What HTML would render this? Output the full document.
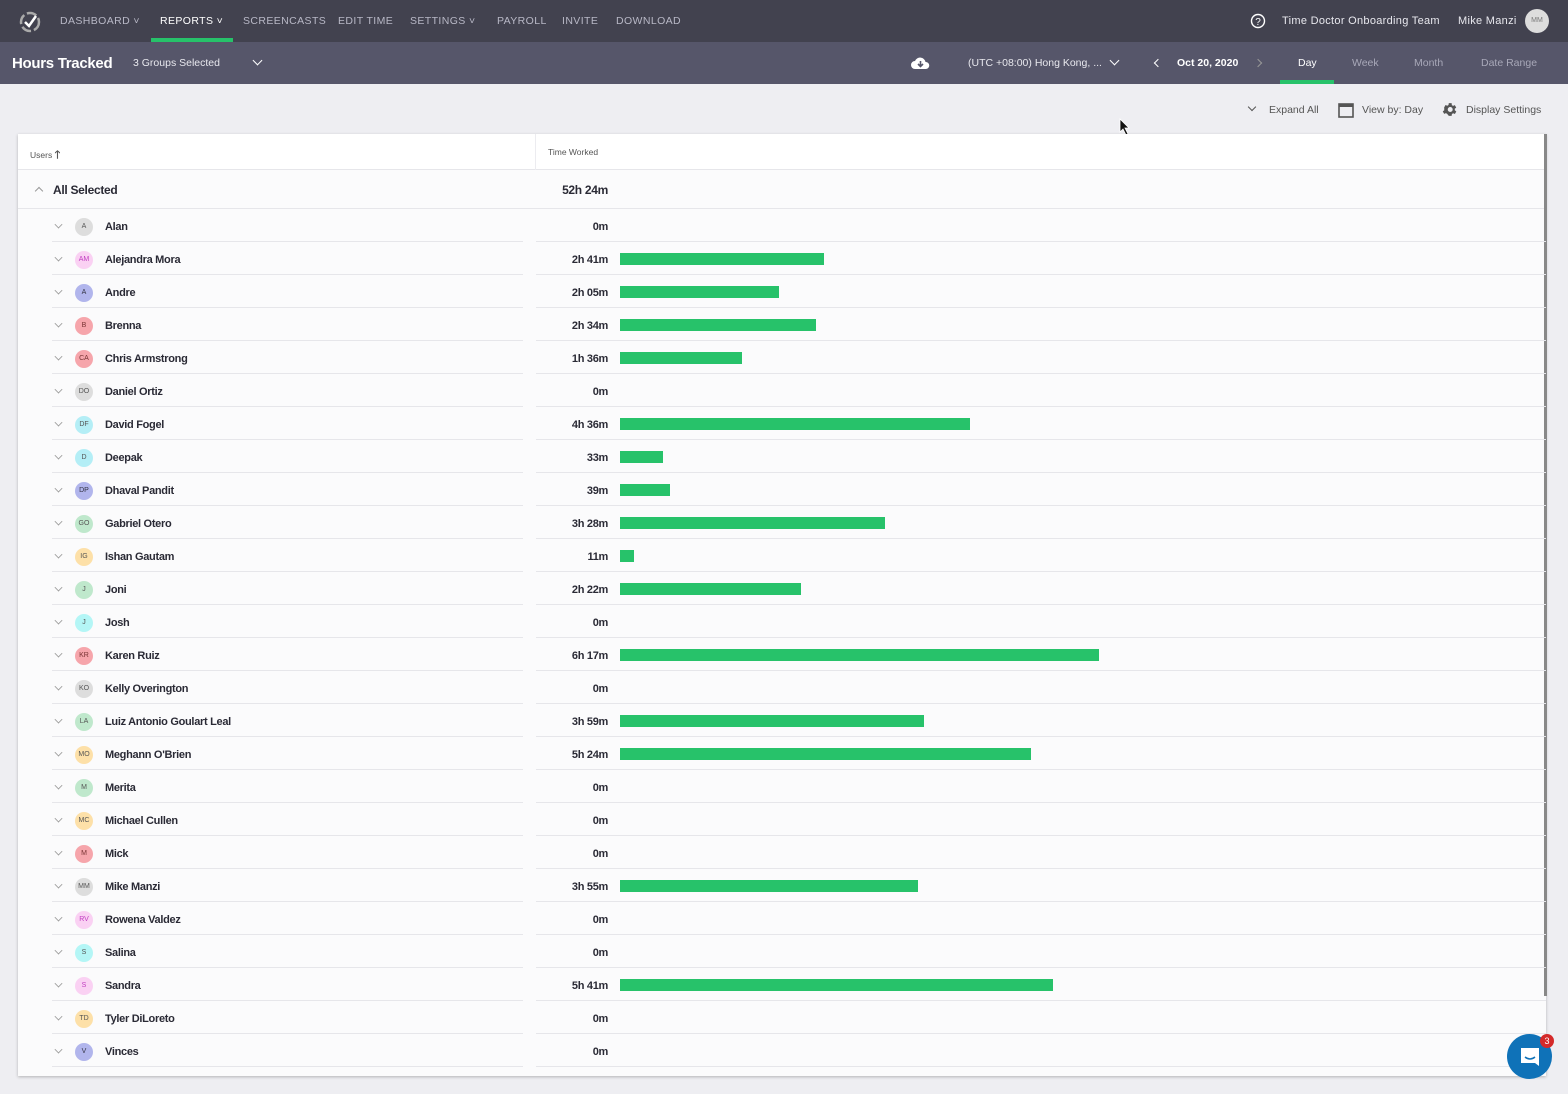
<!DOCTYPE html>
<html><head><meta charset="utf-8"><style>
*{margin:0;padding:0;box-sizing:border-box}
body{width:1568px;height:1094px;background:#eeeef2;font-family:"Liberation Sans",sans-serif;position:relative;overflow:hidden}
.a{position:absolute}
.nav{left:0;top:0;width:1568px;height:42px;background:#42424f}
.sub{left:0;top:42px;width:1568px;height:42px;background:#56566a}
.nv{top:15px;font-size:10.5px;letter-spacing:.4px;color:#b8b8c6}
.card{left:18px;top:134px;width:1528px;height:942px;background:#fbfbfc;box-shadow:0 1px 3px rgba(0,0,0,.25)}
.row{position:absolute;left:0;width:1528px;height:33px}
.row .ln1{position:absolute;left:34px;width:471px;bottom:0;height:1px;background:#e6e6ea}
.row .ln2{position:absolute;left:518px;width:1010px;bottom:0;height:1px;background:#e6e6ea}
.chev{position:absolute;left:37px;top:12px;width:7px;height:7px;border-right:1.3px solid #999;border-bottom:1.3px solid #999;transform:rotate(45deg) scale(.8)}
.av{position:absolute;left:57px;top:9px;width:18px;height:18px;border-radius:50%;font-size:7px;text-align:center;line-height:18px;color:#555}
.nm{position:absolute;left:87px;top:12px;font-size:11px;font-weight:bold;color:#2a2a35;letter-spacing:-.3px}
.tm{position:absolute;right:938px;top:12px;font-size:11px;font-weight:bold;color:#2a2a35;letter-spacing:-.3px}
.bar{position:absolute;left:602px;top:11px;height:12px;background:#27c26a}
</style></head><body>
<div class="a nav"></div>
<svg class="a" style="left:18px;top:10px" width="24" height="24" viewBox="0 0 24 24"><circle cx="12" cy="12" r="9" fill="none" stroke="#aaa" stroke-width="2.5" stroke-dasharray="10 3"/><path d="M7 12l4 4 7-10" fill="none" stroke="#fff" stroke-width="2.5"/></svg>
<div class="a nv" style="left:60px">DASHBOARD ˅</div>
<div class="a nv" style="left:160px;color:#fff">REPORTS ˅</div>
<div class="a" style="left:151px;top:38px;width:82px;height:4px;background:#27c26a"></div>
<div class="a nv" style="left:243px">SCREENCASTS</div>
<div class="a nv" style="left:338px">EDIT TIME</div>
<div class="a nv" style="left:410px">SETTINGS ˅</div>
<div class="a nv" style="left:497px">PAYROLL</div>
<div class="a nv" style="left:562px">INVITE</div>
<div class="a nv" style="left:616px">DOWNLOAD</div>
<svg class="a" style="left:1250px;top:13px" width="16" height="16"><circle cx="8" cy="8" r="6.5" fill="none" stroke="#fff" stroke-width="1.4"/><text x="8" y="12" font-size="10" fill="#fff" text-anchor="middle" font-family="Liberation Sans">?</text></svg>
<div class="a" style="left:1282px;top:15px;font-size:11px;color:#e8e8ee;letter-spacing:.3px">Time Doctor Onboarding Team</div>
<div class="a" style="left:1458px;top:15px;font-size:11px;color:#e8e8ee;letter-spacing:.3px">Mike Manzi</div>
<div class="a" style="left:1525px;top:9px;width:24px;height:24px;border-radius:50%;background:#ddd;font-size:7px;color:#777;text-align:center;line-height:24px">MM</div>

<div class="a sub"></div>
<div class="a" style="left:12px;top:55px;font-size:15px;color:#fff;font-weight:bold;letter-spacing:-.3px">Hours Tracked</div>
<div class="a" style="left:133px;top:57px;font-size:10.5px;color:#e8e8ee">3 Groups Selected</div>
<div class="a" style="left:254px;top:57px;width:7px;height:7px;border-right:1.5px solid #fff;border-bottom:1.5px solid #fff;transform:rotate(45deg)"></div>
<svg class="a" style="left:911px;top:56px" width="19" height="14" viewBox="0 0 19 14"><path d="M4 13a4 4 0 010-8 5.5 5.5 0 0110.5 1A3.5 3.5 0 0115 13z" fill="#fff"/><path d="M9.5 5v5M7 8l2.5 2.5L12 8" stroke="#56566a" stroke-width="1.6" fill="none"/></svg>
<div class="a" style="left:968px;top:57px;font-size:10.5px;color:#e8e8ee">(UTC +08:00) Hong Kong, ...</div>
<div class="a" style="left:1111px;top:57px;width:7px;height:7px;border-right:1.5px solid #fff;border-bottom:1.5px solid #fff;transform:rotate(45deg)"></div>
<div class="a" style="left:1155px;top:60px;width:6px;height:6px;border-left:1.6px solid #fff;border-bottom:1.6px solid #fff;transform:rotate(45deg)"></div>
<div class="a" style="left:1177px;top:57px;font-size:10.5px;color:#fff;font-weight:bold">Oct 20, 2020</div>
<div class="a" style="left:1255px;top:60px;width:6px;height:6px;border-right:1.3px solid #999;border-top:1.3px solid #999;transform:rotate(45deg)"></div>
<div class="a" style="left:1298px;top:57px;font-size:10.5px;color:#fff">Day</div>
<div class="a" style="left:1280px;top:80px;width:54px;height:4px;background:#27c26a"></div>
<div class="a" style="left:1352px;top:57px;font-size:10.5px;color:#a8a8b8">Week</div>
<div class="a" style="left:1414px;top:57px;font-size:10.5px;color:#a8a8b8">Month</div>
<div class="a" style="left:1481px;top:57px;font-size:10.5px;color:#a8a8b8">Date Range</div>

<div class="a" style="left:1249px;top:104px;width:6px;height:6px;border-right:1.5px solid #555;border-bottom:1.5px solid #555;transform:rotate(45deg)"></div>
<div class="a" style="left:1269px;top:104px;font-size:10.5px;color:#555">Expand All</div>
<svg class="a" style="left:1338px;top:101px" width="16" height="17"><rect x="1" y="3" width="14" height="13" fill="none" stroke="#555" stroke-width="1.6"/><rect x="1" y="3" width="14" height="3" fill="#555"/></svg>
<div class="a" style="left:1362px;top:104px;font-size:10.5px;color:#555">View by: Day</div>
<svg class="a" style="left:1441px;top:101px" width="17" height="17" viewBox="0 0 24 24"><path fill="#555" d="M19.4 13a7.8 7.8 0 000-2l2.1-1.6-2-3.5-2.5 1a7.3 7.3 0 00-1.7-1L15 3h-4l-.4 2.7a7.3 7.3 0 00-1.7 1l-2.5-1-2 3.5L4.6 11a7.8 7.8 0 000 2l-2.1 1.6 2 3.5 2.5-1a7.3 7.3 0 001.7 1L11 21h4l.4-2.7a7.3 7.3 0 001.7-1l2.5 1 2-3.5zM13 15.5a3.5 3.5 0 110-7 3.5 3.5 0 010 7z"/></svg>
<div class="a" style="left:1466px;top:104px;font-size:10.5px;color:#555">Display Settings</div>
<svg class="a" style="left:1119px;top:118px" width="12" height="18"><path d="M1 1v13l3-3 3 6 2-1-3-6h4z" fill="#111" stroke="#fff" stroke-width=".8"/></svg>

<div class="a card">
 <div class="a" style="left:0;top:0;width:1528px;height:36px;background:#fff;border-bottom:1px solid #e6e6ea"></div>
 <div class="a" style="left:517px;top:0;width:1px;height:36px;background:#ececf0"></div>
 <div class="a" style="left:12px;top:12px;font-size:8.5px;color:#555">Users <b style="font-size:11px">🡑</b></div>
 <div class="a" style="left:530px;top:13px;font-size:8.5px;color:#555">Time Worked</div>
 <div class="a" style="left:0;top:36px;width:1528px;height:39px;border-bottom:1px solid #e6e6ea"></div>
 <div class="a" style="left:18px;top:54px;width:6px;height:6px;border-left:1.2px solid #999;border-top:1.2px solid #999;transform:rotate(45deg)"></div>
 <div class="a" style="left:35px;top:49px;font-size:12px;font-weight:bold;color:#2a2a35;letter-spacing:-.3px">All Selected</div>
 <div class="a" style="right:938px;top:49px;font-size:12px;font-weight:bold;color:#2a2a35;letter-spacing:-.3px">52h 24m</div>
 <div class="a" style="left:1526px;top:0;width:3px;height:862px;background:#888"></div>
 <div class="a" style="left:0;top:75px;width:1528px">
<div class="row" style="top:0"><span class="chev"></span><span class="av" style="background:#ddd">A</span><span class="nm">Alan</span><span class="tm">0m</span><i class="ln1"></i><i class="ln2"></i></div>
<div class="row" style="top:33px"><span class="chev"></span><span class="av" style="background:#fad1f3;color:#c03cc0">AM</span><span class="nm">Alejandra Mora</span><span class="tm">2h 41m</span><span class="bar" style="width:204px"></span><i class="ln1"></i><i class="ln2"></i></div>
<div class="row" style="top:66px"><span class="chev"></span><span class="av" style="background:#b1b5ec;color:#334">A</span><span class="nm">Andre</span><span class="tm">2h 05m</span><span class="bar" style="width:159px"></span><i class="ln1"></i><i class="ln2"></i></div>
<div class="row" style="top:99px"><span class="chev"></span><span class="av" style="background:#f6a5ab;color:#733">B</span><span class="nm">Brenna</span><span class="tm">2h 34m</span><span class="bar" style="width:196px"></span><i class="ln1"></i><i class="ln2"></i></div>
<div class="row" style="top:132px"><span class="chev"></span><span class="av" style="background:#f6a5ab;color:#733">CA</span><span class="nm">Chris Armstrong</span><span class="tm">1h 36m</span><span class="bar" style="width:122px"></span><i class="ln1"></i><i class="ln2"></i></div>
<div class="row" style="top:165px"><span class="chev"></span><span class="av" style="background:#ddd">DO</span><span class="nm">Daniel Ortiz</span><span class="tm">0m</span><i class="ln1"></i><i class="ln2"></i></div>
<div class="row" style="top:198px"><span class="chev"></span><span class="av" style="background:#b4eef6">DF</span><span class="nm">David Fogel</span><span class="tm">4h 36m</span><span class="bar" style="width:350px"></span><i class="ln1"></i><i class="ln2"></i></div>
<div class="row" style="top:231px"><span class="chev"></span><span class="av" style="background:#b4eef6">D</span><span class="nm">Deepak</span><span class="tm">33m</span><span class="bar" style="width:43px"></span><i class="ln1"></i><i class="ln2"></i></div>
<div class="row" style="top:264px"><span class="chev"></span><span class="av" style="background:#b1b5ec;color:#334">DP</span><span class="nm">Dhaval Pandit</span><span class="tm">39m</span><span class="bar" style="width:50px"></span><i class="ln1"></i><i class="ln2"></i></div>
<div class="row" style="top:297px"><span class="chev"></span><span class="av" style="background:#bfe8cc">GO</span><span class="nm">Gabriel Otero</span><span class="tm">3h 28m</span><span class="bar" style="width:265px"></span><i class="ln1"></i><i class="ln2"></i></div>
<div class="row" style="top:330px"><span class="chev"></span><span class="av" style="background:#fde0a8">IG</span><span class="nm">Ishan Gautam</span><span class="tm">11m</span><span class="bar" style="width:14px"></span><i class="ln1"></i><i class="ln2"></i></div>
<div class="row" style="top:363px"><span class="chev"></span><span class="av" style="background:#bfe8cc">J</span><span class="nm">Joni</span><span class="tm">2h 22m</span><span class="bar" style="width:181px"></span><i class="ln1"></i><i class="ln2"></i></div>
<div class="row" style="top:396px"><span class="chev"></span><span class="av" style="background:#b4f6f6">J</span><span class="nm">Josh</span><span class="tm">0m</span><i class="ln1"></i><i class="ln2"></i></div>
<div class="row" style="top:429px"><span class="chev"></span><span class="av" style="background:#f6a5ab;color:#733">KR</span><span class="nm">Karen Ruiz</span><span class="tm">6h 17m</span><span class="bar" style="width:479px"></span><i class="ln1"></i><i class="ln2"></i></div>
<div class="row" style="top:462px"><span class="chev"></span><span class="av" style="background:#ddd">KO</span><span class="nm">Kelly Overington</span><span class="tm">0m</span><i class="ln1"></i><i class="ln2"></i></div>
<div class="row" style="top:495px"><span class="chev"></span><span class="av" style="background:#bfe8cc">LA</span><span class="nm">Luiz Antonio Goulart Leal</span><span class="tm">3h 59m</span><span class="bar" style="width:304px"></span><i class="ln1"></i><i class="ln2"></i></div>
<div class="row" style="top:528px"><span class="chev"></span><span class="av" style="background:#fde0a8">MO</span><span class="nm">Meghann O'Brien</span><span class="tm">5h 24m</span><span class="bar" style="width:411px"></span><i class="ln1"></i><i class="ln2"></i></div>
<div class="row" style="top:561px"><span class="chev"></span><span class="av" style="background:#bfe8cc">M</span><span class="nm">Merita</span><span class="tm">0m</span><i class="ln1"></i><i class="ln2"></i></div>
<div class="row" style="top:594px"><span class="chev"></span><span class="av" style="background:#fde0a8">MC</span><span class="nm">Michael Cullen</span><span class="tm">0m</span><i class="ln1"></i><i class="ln2"></i></div>
<div class="row" style="top:627px"><span class="chev"></span><span class="av" style="background:#f6a5ab;color:#733">M</span><span class="nm">Mick</span><span class="tm">0m</span><i class="ln1"></i><i class="ln2"></i></div>
<div class="row" style="top:660px"><span class="chev"></span><span class="av" style="background:#ddd">MM</span><span class="nm">Mike Manzi</span><span class="tm">3h 55m</span><span class="bar" style="width:298px"></span><i class="ln1"></i><i class="ln2"></i></div>
<div class="row" style="top:693px"><span class="chev"></span><span class="av" style="background:#fad1f3;color:#c03cc0">RV</span><span class="nm">Rowena Valdez</span><span class="tm">0m</span><i class="ln1"></i><i class="ln2"></i></div>
<div class="row" style="top:726px"><span class="chev"></span><span class="av" style="background:#b4f6f6">S</span><span class="nm">Salina</span><span class="tm">0m</span><i class="ln1"></i><i class="ln2"></i></div>
<div class="row" style="top:759px"><span class="chev"></span><span class="av" style="background:#fad1f3;color:#c03cc0">S</span><span class="nm">Sandra</span><span class="tm">5h 41m</span><span class="bar" style="width:433px"></span><i class="ln1"></i><i class="ln2"></i></div>
<div class="row" style="top:792px"><span class="chev"></span><span class="av" style="background:#fde0a8">TD</span><span class="nm">Tyler DiLoreto</span><span class="tm">0m</span><i class="ln1"></i><i class="ln2"></i></div>
<div class="row" style="top:825px"><span class="chev"></span><span class="av" style="background:#b1b5ec;color:#334">V</span><span class="nm">Vinces</span><span class="tm">0m</span><i class="ln1"></i><i class="ln2"></i></div>
 </div>
</div>
<div class="a" style="left:1507px;top:1034px;width:45px;height:45px;border-radius:50%;background:#0f72b8"></div>
<svg class="a" style="left:1519px;top:1046px" width="22" height="22"><path d="M2 2h18v18l-4-3H2z" fill="#fff"/><path d="M6 11q5 4 10 0" stroke="#0f72b8" stroke-width="1.5" fill="none"/></svg>
<div class="a" style="left:1540px;top:1034px;width:14px;height:14px;border-radius:50%;background:#d42a2a;color:#fff;font-size:9px;text-align:center;line-height:14px">3</div>
</body></html>
